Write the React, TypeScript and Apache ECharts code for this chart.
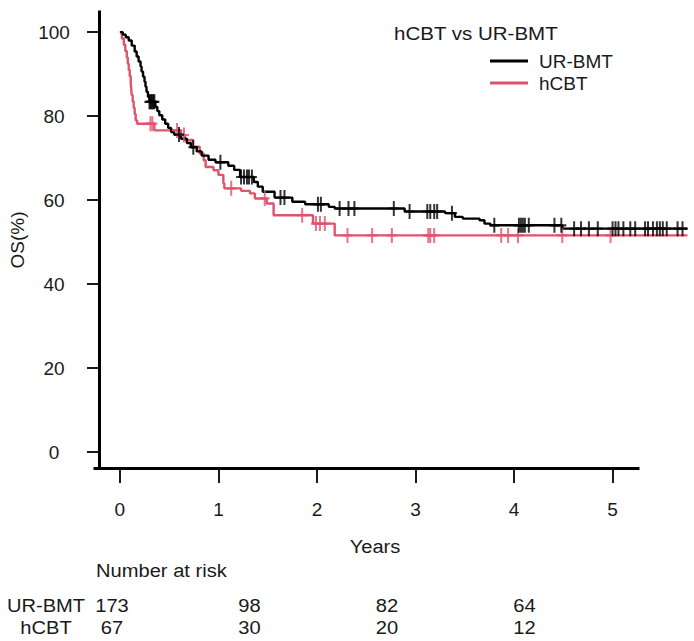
import React, { useEffect, useRef } from 'react';
import * as echarts from 'echarts';

// UR-BMT Kaplan-Meier steps (years, OS %)
const urTimes = [0, 0.03, 0.06, 0.09, 0.12, 0.15, 0.17, 0.19, 0.21, 0.22, 0.235, 0.25, 0.26, 0.27, 0.285, 0.30, 0.36, 0.38, 0.40, 0.43, 0.46, 0.49, 0.52, 0.55, 0.62, 0.68, 0.72, 0.78, 0.83, 0.90, 0.97, 1.10, 1.16, 1.22, 1.36, 1.40, 1.45, 1.57, 1.75, 1.88, 2.12, 2.18, 2.89, 3.30, 3.40, 3.48, 3.65, 3.70, 3.76, 4.49, 5.76];
const urSurv = [100, 99.4, 98.8, 98.0, 96.8, 95.4, 94.2, 93.0, 91.8, 90.6, 89.4, 88.2, 87.0, 85.8, 84.6, 83.4, 82.2, 81.2, 80.2, 79.2, 78.2, 77.2, 76.2, 75.6, 74.6, 73.6, 72.6, 71.6, 70.6, 69.6, 69.0, 68.2, 67.2, 65.5, 64.3, 63.2, 62.0, 60.6, 59.6, 59.0, 58.4, 58.0, 57.3, 56.9, 56.0, 55.6, 55.2, 54.4, 54.0, 53.2, 53.2];
const urCensor = [0.30, 0.31, 0.32, 0.33, 0.34, 0.35, 0.60, 0.745, 1.02, 1.23, 1.26, 1.29, 1.31, 1.34, 1.63, 1.67, 2.01, 2.04, 2.23, 2.32, 2.38, 2.78, 2.94, 3.12, 3.15, 3.19, 3.22, 3.37, 3.80, 4.05, 4.07, 4.09, 4.11, 4.15, 4.41, 4.48, 4.61, 4.68, 4.76, 4.85, 5.00, 5.03, 5.06, 5.11, 5.18, 5.23, 5.33, 5.36, 5.41, 5.45, 5.48, 5.51, 5.55, 5.66, 5.71];

// hCBT Kaplan-Meier steps (years, OS %)
const cbTimes = [0, 0.02, 0.04, 0.055, 0.07, 0.08, 0.09, 0.10, 0.11, 0.115, 0.12, 0.13, 0.14, 0.15, 0.16, 0.175, 0.35, 0.62, 0.66, 0.74, 0.81, 0.85, 0.87, 0.95, 1.00, 1.05, 1.06, 1.23, 1.32, 1.37, 1.49, 1.56, 1.96, 2.18, 5.76];
const cbSurv = [100, 98.5, 97.0, 95.5, 94.0, 92.5, 91.0, 89.5, 88.0, 86.5, 85.0, 83.5, 82.0, 80.5, 79.0, 78.2, 76.6, 75.5, 74.3, 72.7, 71.1, 69.5, 67.9, 67.1, 66.0, 64.0, 62.8, 62.2, 61.6, 60.4, 59.2, 56.4, 54.4, 51.6, 51.6];
const cbCensor = [0.31, 0.33, 0.58, 0.65, 1.13, 1.47, 1.85, 1.99, 2.03, 2.08, 2.31, 2.56, 2.76, 3.13, 3.15, 3.19, 3.87, 3.94, 4.04, 4.49, 4.98];

const xTicks = [0, 1, 2, 3, 4, 5];
const yTicks = [0, 20, 40, 60, 80, 100];

const groupNames = ['UR-BMT', 'hCBT'];
const riskUR = [173, 98, 82, 64];
const riskCB = [67, 30, 20, 12];

const FONT = '"Liberation Sans", Arial, Helvetica, sans-serif';
const TXT = '#1a1a1a';
const BLACK = '#000000';
const RED = '#DF536B';
const PLUS = 'path://M4,0H6V6H10V8H6V14H4V8H0V6H4Z';
const FS = 19;

function survAt(times: number[], surv: number[], t: number) {
  let v = surv[0];
  for (let i = 0; i < times.length; i++) if (times[i] <= t) v = surv[i];
  return v;
}

function txt(text: string, x: number, y: number, align: string, sx = 1.06) {
  return { type: 'text', x, y, scaleX: sx, style: { text, fontSize: FS, fontFamily: FONT, fill: TXT, align, verticalAlign: 'middle' } };
}

export default function App() {
  const ref = useRef<HTMLDivElement>(null);
  useEffect(() => {
    if (!ref.current) return;
    const chart = echarts.init(ref.current, undefined, { renderer: 'svg' });
    const urLine = urTimes.map((t, i) => [t, urSurv[i]]);
    const cbLine = cbTimes.map((t, i) => [t, cbSurv[i]]);
    const urMarks = urCensor.map((t) => [t, survAt(urTimes, urSurv, t)]);
    const cbMarks = cbCensor.map((t) => [t, survAt(cbTimes, cbSurv, t)]);

    const risk: any[] = [];
    groupNames.forEach((g, r) => {
      const y = 605 + r * 22;
      risk.push(txt(g, 46, y, 'center'));
      const vals = r === 0 ? riskUR : riskCB;
      vals.forEach((v, i) => risk.push(txt(String(v), 112 + i * 137.5, y, 'center')));
    });

    chart.setOption({
      animation: false,
      textStyle: { fontFamily: FONT },
      grid: [
        { left: 95, right: 4, top: 12, bottom: 173 },
        { left: 95, right: 56, top: 12, bottom: 173 },
      ],
      xAxis: [
        {
          type: 'value', gridIndex: 0, min: -0.212, max: 5.786, offset: 2,
          axisLine: { show: false, onZero: false },
          axisTick: { show: true, length: 13, customValues: xTicks, lineStyle: { color: BLACK, width: 1.8 } },
          axisLabel: { customValues: xTicks, margin: 30, fontSize: FS, color: TXT, fontFamily: FONT },
          splitLine: { show: false },
        },
        {
          type: 'value', gridIndex: 1, min: 0, max: 1,
          axisLine: { show: true, onZero: false, lineStyle: { color: BLACK, width: 3, cap: 'square' } },
          axisTick: { show: false }, axisLabel: { show: false }, splitLine: { show: false },
        },
      ],
      yAxis: [
        {
          type: 'value', gridIndex: 0, min: -3.8, max: 104.8,
          name: 'OS(%)', nameLocation: 'middle', nameGap: 72, nameRotate: 90,
          nameTextStyle: { fontSize: FS, color: TXT, fontFamily: FONT },
          axisLine: { show: true, onZero: false, lineStyle: { color: BLACK, width: 3, cap: 'square' } },
          axisTick: { show: true, length: 12, customValues: yTicks, lineStyle: { color: BLACK, width: 1.8 } },
          axisLabel: { customValues: yTicks, margin: 45, align: 'center', fontSize: FS, color: TXT, fontFamily: FONT },
          splitLine: { show: false },
        },
        { type: 'value', gridIndex: 1, show: false, min: 0, max: 1 },
      ],
      legend: {
        data: groupNames, orient: 'vertical', left: 490, top: 50, padding: 0, itemGap: 0,
        itemWidth: 38, itemHeight: 3, icon: 'rect', selectedMode: false,
        textStyle: { fontSize: FS, lineHeight: 22, color: TXT, fontFamily: FONT, padding: [0, 0, 0, 6] },
      },
      graphic: [
        txt('hCBT vs UR-BMT', 394, 33, 'left', 1.08),
        txt('Years', 375, 546, 'center'),
        txt('Number at risk', 96, 570, 'left'),
        ...risk,
      ],
      series: [
        { name: 'UR-BMT', type: 'line', xAxisIndex: 0, yAxisIndex: 0, step: 'end', data: urLine, symbol: 'none', lineStyle: { color: BLACK, width: 2.4 }, itemStyle: { color: BLACK }, z: 3 },
        { name: 'hCBT', type: 'line', xAxisIndex: 0, yAxisIndex: 0, step: 'end', data: cbLine, symbol: 'none', lineStyle: { color: RED, width: 2.4 }, itemStyle: { color: RED }, z: 2 },
        { name: 'UR-BMT censored', type: 'scatter', xAxisIndex: 0, yAxisIndex: 0, data: urMarks, symbol: PLUS, symbolSize: [10, 15], itemStyle: { color: BLACK }, z: 4 },
        { name: 'hCBT censored', type: 'scatter', xAxisIndex: 0, yAxisIndex: 0, data: cbMarks, symbol: PLUS, symbolSize: [10, 15], itemStyle: { color: RED }, z: 3 },
      ],
    });
    return () => chart.dispose();
  }, []);
  return <div ref={ref} style={{ position: 'fixed', left: 0, top: 0, width: 694, height: 641, background: '#fff' }} />;
}
